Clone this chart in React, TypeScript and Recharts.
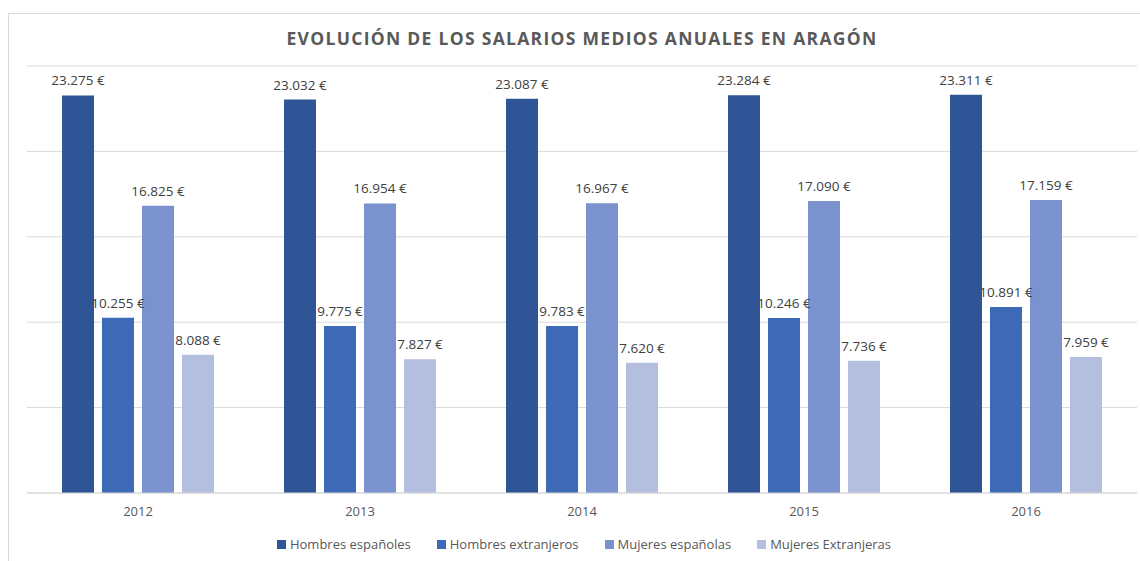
import { BarChart, Bar, XAxis, YAxis, CartesianGrid, Legend, LabelList } from 'recharts';

const years = ['2012', '2013', '2014', '2015', '2016'];
const hombresEspanoles = [23275, 23032, 23087, 23284, 23311];
const hombresExtranjeros = [10255, 9775, 9783, 10246, 10891];
const mujeresEspanolas = [16825, 16954, 16967, 17090, 17159];
const mujeresExtranjeras = [8088, 7827, 7620, 7736, 7959];
const yTicks = [0, 5000, 10000, 15000, 20000, 25000];

const data = years.map((year, i) => ({
  year,
  hombresEsp: hombresEspanoles[i],
  hombresExt: hombresExtranjeros[i],
  mujeresEsp: mujeresEspanolas[i],
  mujeresExt: mujeresExtranjeras[i],
}));

const series = [
  { key: 'hombresEsp', name: 'Hombres españoles', color: '#2f5597' },
  { key: 'hombresExt', name: 'Hombres extranjeros', color: '#3e69b6' },
  { key: 'mujeresEsp', name: 'Mujeres españolas', color: '#7a93ce' },
  { key: 'mujeresExt', name: 'Mujeres Extranjeras', color: '#b4bedf' },
];

const fmt = (v: any) => String(v).replace(/\B(?=(\d{3})+(?!\d))/g, '.') + ' €';

const font = '"Open Sans", sans-serif';

// plain svg text so the label does not wrap to the bar width
const renderLabel = (props: any) => {
  const { x, y, width, value } = props;
  return (
    <text x={x + width / 2} y={y - 10} textAnchor="middle" fill="#404040" fontSize={13.5} fontFamily={font}>
      {fmt(value)}
    </text>
  );
};

export default function App() {
  return (
    <div style={{ position: 'absolute', left: 0, top: 0, width: 1140, height: 561, background: '#fff', overflow: 'hidden', fontFamily: font }}>
      <div style={{ position: 'absolute', left: 8, top: 13, width: 1140, height: 560, borderTop: '1px solid #d9d9d9', borderLeft: '1px solid #d9d9d9' }} />
      <div style={{ position: 'absolute', left: 0, top: 26, width: 1164, textAlign: 'center', fontSize: 17.5, fontWeight: 700, color: '#595959', letterSpacing: 1.3 }}>
        EVOLUCIÓN DE LOS SALARIOS MEDIOS ANUALES EN ARAGÓN
      </div>
      <div style={{ position: 'absolute', left: 0, top: 0 }}>
        <BarChart
          width={1140}
          height={561}
          data={data}
          margin={{ top: 66, right: 3, bottom: 8, left: 27 }}
          barGap={8}
          barCategoryGap={35}
        >
          <CartesianGrid vertical={false} stroke="#d9d9d9" />
          <YAxis hide domain={[0, 25000]} ticks={yTicks} />
          <XAxis
            dataKey="year"
            axisLine={{ stroke: '#d9d9d9' }}
            tickLine={false}
            height={32}
            tick={{ fill: '#595959', fontSize: 13, fontFamily: font }}
            tickMargin={8}
          />
          <Legend
            verticalAlign="bottom"
            height={28}
            iconType="square"
            iconSize={9}
            itemSorter="dataKey"
            wrapperStyle={{ bottom: 1, left: 42 }}
            formatter={(value: string) => (
              <span style={{ color: '#595959', fontSize: 13, fontFamily: font, marginRight: 16 }}>{value}</span>
            )}
          />
          {series.map((s) => (
            <Bar key={s.key} dataKey={s.key} name={s.name} fill={s.color} barSize={32} isAnimationActive={false}>
              <LabelList dataKey={s.key} content={renderLabel} />
            </Bar>
          ))}
        </BarChart>
      </div>
    </div>
  );
}
